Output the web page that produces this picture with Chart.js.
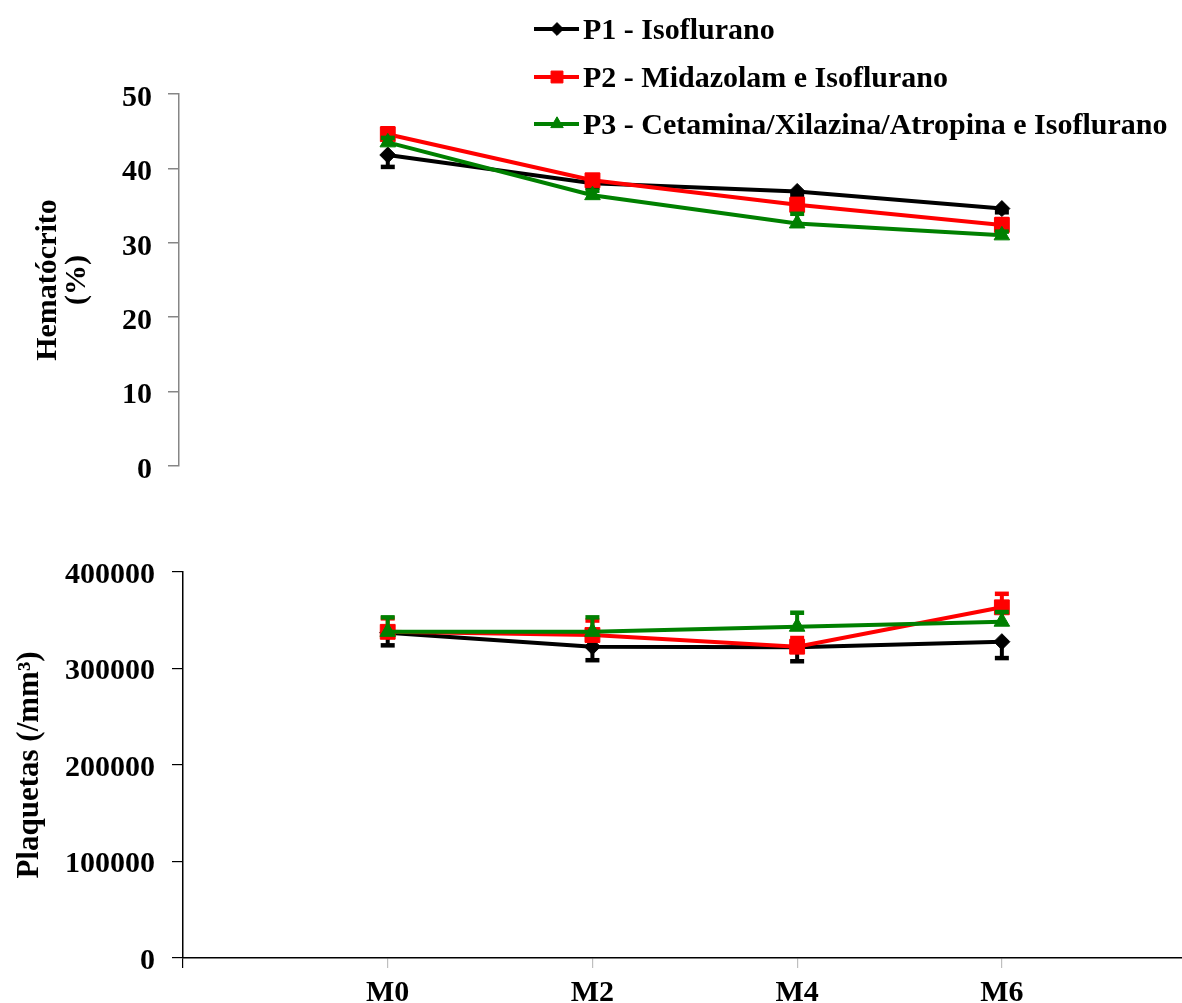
<!DOCTYPE html>
<html><head><meta charset="utf-8">
<script src="https://cdn.jsdelivr.net/npm/chart.js@4/dist/chart.umd.min.js"></script>
<style>
html,body{margin:0;padding:0;background:#fff;}
#wrap{position:relative;width:1182px;height:1003px;overflow:hidden;}
#c1{position:absolute;left:0;top:0;}
#c2{position:absolute;left:0;top:500px;}
</style></head><body>
<div id="wrap"><canvas id="c1" width="1182" height="500"></canvas><canvas id="c2" width="1182" height="503"></canvas></div>
<script>
// ---- data ----
const categories = ['M0', 'M2', 'M4', 'M6'];
const seriesNames = ['P1 - Isoflurano', 'P2 - Midazolam e Isoflurano', 'P3 - Cetamina/Xilazina/Atropina e Isoflurano'];
const hematocritoTicks = [0, 10, 20, 30, 40, 50];
const plaquetasTicks = [0, 100000, 200000, 300000, 400000];

const hematocritoP1 = [41.8, 38.0, 36.9, 34.6];
const hematocritoP2 = [44.6, 38.4, 35.1, 32.4];
const hematocritoP3 = [43.5, 36.4, 32.6, 31.0];
const hematocritoErrP1 = [1.6, 0.6, 0.5, 0.5];
const hematocritoErrP2 = [0.8, 0.7, 0.8, 0.8];
const hematocritoErrP3 = [0.6, 0.6, 1.3, 0.5];

const plaquetasP1 = [337000, 322600, 322000, 327800];
const plaquetasP2 = [338000, 334700, 322600, 363400];
const plaquetasP3 = [338000, 338000, 343300, 348500];
const plaquetasErrP1 = [13000, 14000, 14500, 17000];
const plaquetasErrP2 = [14000, 15000, 9000, 14000];
const plaquetasErrP3 = [15000, 15000, 14500, 10000];

// ---- styles ----
const colors = ['#000000', '#FF0000', '#008000'];
const markers = ['rectRot', 'rect', 'triangle'];
const markerRadius = [8, 10.5, 9];
const errDirection = [-1, 1, 1];
const FONT = '"Liberation Serif", "Times New Roman", serif';

function makeDatasets(values, errs) {
  return values.map((vals, s) => ({
    label: seriesNames[s],
    data: vals.map((v, i) => ({x: i, y: v})),
    errors: errs[s],
    errDir: errDirection[s],
    borderColor: colors[s],
    backgroundColor: colors[s],
    pointBackgroundColor: colors[s],
    pointBorderColor: colors[s],
    pointStyle: markers[s],
    pointRadius: markerRadius[s],
    pointHoverRadius: markerRadius[s],
    pointBorderWidth: 1,
    borderWidth: 4,
    tension: 0,
    clip: false,
    order: 3 - s
  }));
}

const errorBarPlugin = {
  id: 'errorBars',
  beforeDatasetDraw(chart, args) {
    const ds = chart.data.datasets[args.index];
    if (!ds.errors) return;
    const ctx = chart.ctx, xs = chart.scales.x, ys = chart.scales.y;
    ctx.save();
    ctx.strokeStyle = ds.borderColor;
    ds.data.forEach((p, i) => {
      const x = xs.getPixelForValue(p.x);
      const y0 = ys.getPixelForValue(p.y);
      const y1 = ys.getPixelForValue(p.y + ds.errDir * ds.errors[i]);
      ctx.lineWidth = 4;
      ctx.beginPath(); ctx.moveTo(x, y0); ctx.lineTo(x, y1); ctx.stroke();
      ctx.lineWidth = 4.5;
      ctx.beginPath(); ctx.moveTo(x - 7, y1); ctx.lineTo(x + 7, y1); ctx.stroke();
    });
    ctx.restore();
  }
};

function drawMarker(ctx, style, r, x, y, color) {
  ctx.save();
  ctx.fillStyle = color; ctx.strokeStyle = color; ctx.lineWidth = 1;
  ctx.beginPath();
  if (style === 'rectRot') {
    ctx.moveTo(x, y - r); ctx.lineTo(x + r, y); ctx.lineTo(x, y + r); ctx.lineTo(x - r, y);
  } else if (style === 'rect') {
    const h = r * Math.SQRT1_2;
    ctx.rect(x - h, y - h, 2 * h, 2 * h);
  } else {
    const h = r;
    ctx.moveTo(x, y - h); ctx.lineTo(x + h * 0.866, y + h * 0.5); ctx.lineTo(x - h * 0.866, y + h * 0.5);
  }
  ctx.closePath(); ctx.fill(); ctx.stroke();
  ctx.restore();
}

const legendPlugin = {
  id: 'customLegend',
  afterDraw(chart) {
    const ctx = chart.ctx;
    const rows = [29, 77, 124];
    chart.data.datasets.forEach((ds, s) => {
      const y = rows[s];
      ctx.save();
      ctx.strokeStyle = ds.borderColor; ctx.lineWidth = 4;
      ctx.beginPath(); ctx.moveTo(534, y); ctx.lineTo(579, y); ctx.stroke();
      drawMarker(ctx, ds.pointStyle, ds.pointRadius * 0.8, 557, y, ds.borderColor);
      ctx.fillStyle = '#000';
      ctx.font = 'bold 30px ' + FONT;
      ctx.textAlign = 'left'; ctx.textBaseline = 'middle';
      ctx.fillText(ds.label, 583, y + 2);
      ctx.restore();
    });
  }
};

const xMin = -1.02, xMax = 3.88;
const tickFont = { family: FONT, size: 30, weight: 'bold' };

// ---- top chart ----
new Chart(document.getElementById('c1'), {
  type: 'line',
  data: { datasets: makeDatasets([hematocritoP1, hematocritoP2, hematocritoP3], [hematocritoErrP1, hematocritoErrP2, hematocritoErrP3]) },
  options: {
    responsive: false, animation: false,
    layout: { autoPadding: false, padding: { top: 94, bottom: 26, left: 0, right: 0 } },
    plugins: { legend: { display: false }, tooltip: { enabled: false } },
    scales: {
      x: { type: 'linear', display: false, min: xMin, max: xMax },
      y: {
        min: hematocritoTicks[0], max: hematocritoTicks[hematocritoTicks.length - 1],
        afterBuildTicks(scale) { scale.ticks = hematocritoTicks.map(v => ({value: v})); },
        afterFit(scale) { scale.width = 179; },
        border: { display: true, color: '#868686', width: 1.5 },
        grid: { drawOnChartArea: false, drawTicks: true, tickLength: 11, color: '#868686', lineWidth: 1.5 },
        ticks: { padding: 16, labelOffset: 4, color: '#000', font: tickFont, callback: v => String(v) },
        title: { display: true, text: ['Hematócrito', '(%)'], color: '#000', font: { family: FONT, size: 30, weight: 'bold', lineHeight: 0.95 }, padding: { top: 34, bottom: 0 } }
      }
    }
  },
  plugins: [errorBarPlugin, legendPlugin]
});

// ---- bottom chart ----
new Chart(document.getElementById('c2'), {
  type: 'line',
  data: { datasets: makeDatasets([plaquetasP1, plaquetasP2, plaquetasP3], [plaquetasErrP1, plaquetasErrP2, plaquetasErrP3]) },
  options: {
    responsive: false, animation: false,
    layout: { autoPadding: false, padding: { top: 72, bottom: 0, left: 0, right: 0 } },
    plugins: { legend: { display: false }, tooltip: { enabled: false } },
    scales: {
      x: {
        type: 'linear', min: -1.0, max: xMax,
        afterBuildTicks(scale) { scale.ticks = [-1, 0, 1, 2, 3].map(v => ({value: v})); },
        afterFit(scale) { scale.height = 45; },
        border: { display: true, color: '#000', width: 1.5 },
        grid: { drawOnChartArea: false, drawTicks: true, tickLength: 10,
                color: ctx => (ctx.tick && ctx.tick.value === -1) ? '#000' : 'rgba(0,0,0,0.25)', lineWidth: 1.2 },
        ticks: { padding: 7, color: '#000', maxRotation: 0, autoSkip: false, font: tickFont,
                 callback: v => (categories[v] !== undefined ? categories[v] : '') }
      },
      y: {
        min: plaquetasTicks[0], max: plaquetasTicks[plaquetasTicks.length - 1],
        afterBuildTicks(scale) { scale.ticks = plaquetasTicks.map(v => ({value: v})); },
        afterFit(scale) { scale.width = 183; },
        border: { display: true, color: '#000', width: 1.5 },
        grid: { drawOnChartArea: false, drawTicks: true, tickLength: 11, color: '#000', lineWidth: 1.2 },
        ticks: { padding: 17, labelOffset: 3, color: '#000', font: tickFont, callback: v => String(v) },
        title: { display: true, text: ['Plaquetas (/mm³)'], color: '#000', font: { family: FONT, size: 31, weight: 'bold', lineHeight: 0.95 }, padding: { top: 15, bottom: 0 } }
      }
    }
  },
  plugins: [errorBarPlugin]
});
</script>
</body></html>
